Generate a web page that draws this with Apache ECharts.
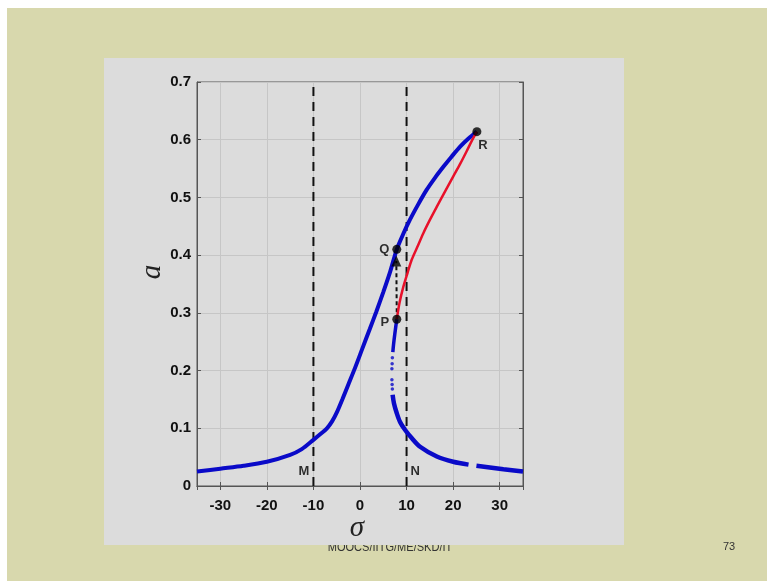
<!DOCTYPE html>
<html>
<head>
    <meta charset="utf-8">
    <title></title>
    <script src="https://cdn.jsdelivr.net/npm/echarts@6/dist/echarts.min.js"></script>
    <style type="text/css">
        html, body {
            margin: 0;
            padding: 0;
            background: #ffffff;
        }
        #chart {
            width: 767px;
            height: 581px;
        }
    </style>
</head>
<body>
    <div id="chart"></div>
    <script type="text/javascript">
        // upper stable branch (blue)
        var upperSigma = [-35, -30, -25, -20, -15, -12.5, -10, -8.5, -7.1, -6, -4.9, -3.8, -2.5, -1, 0.5, 2.1, 3.5, 5, 6.5, 7.9, 9.3, 10.7, 12.5, 14.3, 16.1, 17.9, 19.7, 21.5, 23.3, 25.1];
        var upperA = [0.025, 0.030, 0.035, 0.042, 0.054, 0.064, 0.080, 0.090, 0.100, 0.112, 0.129, 0.150, 0.176, 0.206, 0.238, 0.272, 0.302, 0.336, 0.372, 0.410, 0.437, 0.461, 0.488, 0.513, 0.534, 0.553, 0.571, 0.588, 0.602, 0.614];

        // unstable branch (red), R down to P
        var redSigma = [25.1, 24.0, 22.9, 21.5, 20.0, 18.3, 16.5, 15.0, 13.6, 12.3, 11.1, 10.2, 9.3, 8.5, 7.9];
        var redA = [0.614, 0.598, 0.580, 0.558, 0.536, 0.511, 0.484, 0.461, 0.438, 0.414, 0.392, 0.369, 0.345, 0.318, 0.289];

        // lower stable branch, from P down
        var lowSigma = [7.9, 7.5, 7.2, 7.05];
        var lowA = [0.289, 0.265, 0.245, 0.232];
        var dotSigma = [6.95, 6.9, 6.85, 6.85, 6.9, 6.95];
        var dotA = [0.222, 0.212, 0.203, 0.184, 0.176, 0.168];
        var tailSigma = [7.0, 7.3, 7.9, 8.6, 9.7, 11.1, 12.9, 16.5, 20.0, 23.3, null, 25.0, 30.8, 35];
        var tailA = [0.158, 0.143, 0.126, 0.111, 0.097, 0.083, 0.068, 0.051, 0.042, 0.037, null, 0.035, 0.029, 0.025];

        // jump points and labels
        var pointNames = ['P', 'Q', 'R'];
        var pointSigma = [7.9, 7.9, 25.1];
        var pointA = [0.289, 0.41, 0.614];
        var arrowPoint = [7.8, 0.39];
        var markNames = ['M', 'N'];
        var markSigma = [-10, 10];

        function pairs(xs, ys) {
            return xs.map(function (x, i) {
                return x === null ? [null, null] : [x, ys[i]];
            });
        }

        var myChart = echarts.init(document.getElementById('chart'));

        var labelFont = { fontFamily: 'Liberation Sans', fontWeight: 'bold', fontSize: 13, color: '#000' };
        var pointLabelPos = { P: 'left', Q: 'left', R: 'bottom' };
        var pointLabelOffset = { P: [0, 3], Q: [0, 0], R: [6, 0] };

        var option = {
            animation: false,
            graphic: [
                { type: 'rect', z: -12, shape: { x: 7, y: 8, width: 760, height: 573 }, style: { fill: '#d8d8ad' } },
                { type: 'text', z: -11, x: 390, y: 547.5, scaleX: 0.85, style: { text: 'MOOCS/IITG/ME/SKD/IT', fontSize: 13, fontFamily: 'Liberation Sans', fill: '#333', align: 'center', verticalAlign: 'middle' } },
                { type: 'rect', z: -10, shape: { x: 104, y: 58, width: 520, height: 487 }, style: { fill: '#dcdcdc' } },
                { type: 'text', x: 729, y: 547, style: { text: '73', fontSize: 11, fontFamily: 'Liberation Sans', fill: '#333', align: 'center', verticalAlign: 'middle' } },
                { type: 'text', x: 357, y: 528, style: { text: 'σ', fontSize: 29, fontStyle: 'italic', fontFamily: 'Liberation Serif', fill: '#222', align: 'center', verticalAlign: 'middle' } },
                { type: 'text', x: 152, y: 272, rotation: Math.PI / 2, style: { text: 'a', fontSize: 29, fontStyle: 'italic', fontFamily: 'Liberation Serif', fill: '#222', align: 'center', verticalAlign: 'middle' } }
            ],
            grid: {
                left: 197, top: 82, width: 326, height: 404,
                show: true, borderColor: '#555', borderWidth: 1, backgroundColor: 'transparent'
            },
            xAxis: [{
                type: 'value', min: -35, max: 35, splitNumber: 7,
                axisLine: { lineStyle: { color: '#555' } },
                axisTick: { inside: true, length: 4, lineStyle: { color: '#555' } },
                axisLabel: {
                    showMinLabel: false, showMaxLabel: false, margin: 12,
                    fontFamily: 'Liberation Sans', fontWeight: 'bold', fontSize: 15, color: '#111'
                },
                splitLine: { lineStyle: { color: '#c6c6c6' } }
            }, {
                type: 'value', min: -35, max: 35, splitNumber: 7, position: 'top',
                axisLine: { lineStyle: { color: '#555' } },
                axisTick: { inside: true, length: 4, lineStyle: { color: '#555' } },
                axisLabel: { show: false }, splitLine: { show: false }
            }],
            yAxis: [{
                type: 'value', min: 0, max: 0.7, interval: 0.1,
                axisLine: { show: true, onZero: false, lineStyle: { color: '#555' } },
                axisTick: { show: true, inside: true, length: 4, lineStyle: { color: '#555' } },
                axisLabel: {
                    margin: 6, fontFamily: 'Liberation Sans', fontWeight: 'bold', fontSize: 15, color: '#111',
                    formatter: function (v) { return v === 0 ? '0' : v.toFixed(1); }
                },
                splitLine: { lineStyle: { color: '#c6c6c6' } }
            }, {
                type: 'value', min: 0, max: 0.7, interval: 0.1, position: 'right',
                axisLine: { show: true, onZero: false, lineStyle: { color: '#555' } },
                axisTick: { show: true, inside: true, length: 4, lineStyle: { color: '#555' } },
                axisLabel: { show: false }, splitLine: { show: false }
            }],
            series: [
                {
                    type: 'line', data: [[markSigma[0], 0], [markSigma[0], 0.7]], symbol: 'none',
                    lineStyle: { color: '#111', width: 2, type: [9, 6] }
                },
                {
                    type: 'line', data: [[markSigma[1], 0], [markSigma[1], 0.7]], symbol: 'none',
                    lineStyle: { color: '#111', width: 2, type: [9, 6] }
                },
                {
                    type: 'line', data: [[pointSigma[0], pointA[0]], [arrowPoint[0], arrowPoint[1]]], symbol: 'none',
                    lineStyle: { color: '#111', width: 2, type: [4, 3] }
                },
                {
                    type: 'line', data: pairs(upperSigma, upperA), symbol: 'none', smooth: 0.3,
                    lineStyle: { color: '#0a0ac8', width: 4 }
                },
                {
                    type: 'line', data: pairs(redSigma, redA), symbol: 'none', smooth: 0.3,
                    lineStyle: { color: '#e8102a', width: 2.5 }
                },
                {
                    type: 'line', data: pairs(lowSigma, lowA), symbol: 'none', smooth: 0.3,
                    lineStyle: { color: '#0a0ac8', width: 3.5 }
                },
                {
                    type: 'scatter', data: pairs(dotSigma, dotA), symbolSize: 3.5,
                    itemStyle: { color: '#0a0ac8' }
                },
                {
                    type: 'line', data: pairs(tailSigma, tailA), symbol: 'none', smooth: 0.3, connectNulls: false,
                    lineStyle: { color: '#0a0ac8', width: 4.5 }
                },
                {
                    type: 'scatter', data: [arrowPoint], symbol: 'triangle', symbolSize: [10, 11],
                    itemStyle: { color: '#000' }, z: 5
                },
                {
                    type: 'scatter', symbolSize: 9, itemStyle: { color: '#000' }, z: 6,
                    data: pointNames.map(function (n, i) {
                        return {
                            value: [pointSigma[i], pointA[i]], name: n,
                            label: {
                                show: true, formatter: n, position: pointLabelPos[n],
                                offset: pointLabelOffset[n], distance: 3
                            }
                        };
                    }),
                    label: labelFont
                },
                {
                    type: 'scatter', symbolSize: 0, z: 6,
                    data: markNames.map(function (n, i) {
                        return {
                            value: [markSigma[i], 0.026], name: n,
                            label: { show: true, formatter: n, position: i === 0 ? 'left' : 'right', distance: 4 }
                        };
                    }),
                    label: labelFont
                }
            ]
        };
        myChart.setOption(option);
    </script>
</body>
</html>
